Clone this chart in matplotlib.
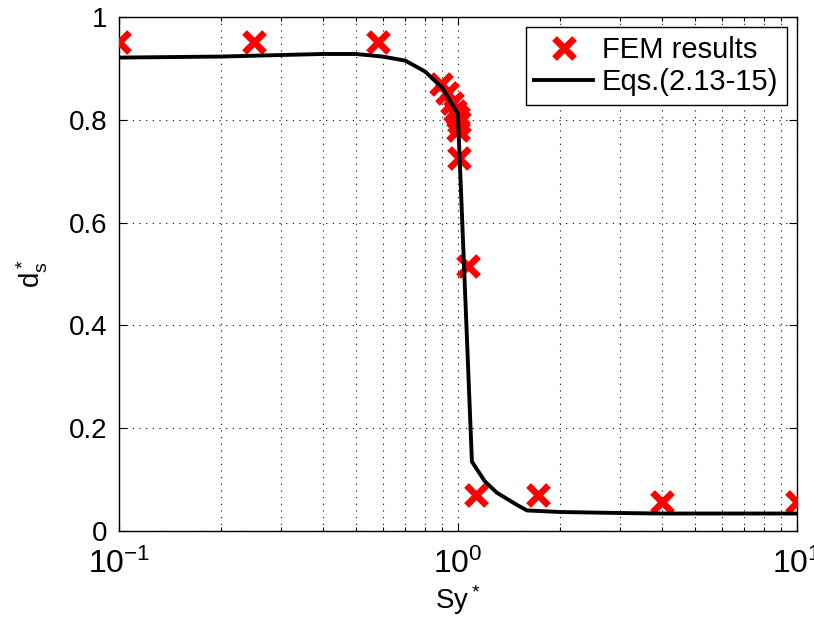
import matplotlib
matplotlib.use("Agg")
import matplotlib.pyplot as plt
from matplotlib.ticker import LogLocator

plt.rcParams['font.family'] = ['Liberation Sans', 'DejaVu Sans']
plt.rcParams['mathtext.default'] = 'regular'

# FEM results (scatter)
fem_sy = [0.1, 0.25, 0.58, 0.89, 0.93, 0.96, 0.98, 1.0, 1.01, 1.0, 1.01, 1.07, 1.13, 1.72, 4.0, 10.0]
fem_ds = [0.952, 0.952, 0.952, 0.870, 0.852, 0.833, 0.818, 0.805, 0.795, 0.780, 0.725, 0.515, 0.070, 0.070, 0.057, 0.057]

# Equation curve
eq_sy = [0.1, 0.2, 0.3, 0.4, 0.5, 0.6, 0.7, 0.8, 0.9, 1.0, 1.1, 1.2, 1.3, 1.4, 1.5, 1.6, 2.0, 3.0, 4.0, 6.0, 10.0]
eq_ds = [0.921, 0.923, 0.926, 0.928, 0.928, 0.923, 0.915, 0.894, 0.862, 0.812, 0.135, 0.097, 0.075, 0.062, 0.050, 0.040, 0.037, 0.035, 0.034, 0.034, 0.034]

fig = plt.figure(figsize=(8.14, 6.22), dpi=100)
ax = fig.add_axes([0.146, 0.1463, 0.833, 0.8264])

ax.plot(fem_sy, fem_ds, linestyle='none', marker='x', color='red', markersize=14,
        markeredgewidth=4.8, label='FEM results', zorder=3)
ax.plot(eq_sy, eq_ds, color='black', linewidth=2.8, label='Eqs.(2.13-15)', zorder=4)

ax.set_xscale('log')
ax.set_xlim(0.1, 10)
ax.set_ylim(0, 1)
ax.set_yticks([0, 0.2, 0.4, 0.6, 0.8, 1])
ax.set_yticklabels(['0', '0.2', '0.4', '0.6', '0.8', '1'])
ax.xaxis.set_major_locator(LogLocator(base=10, numticks=10))
ax.xaxis.set_minor_locator(LogLocator(base=10, subs=range(2, 10), numticks=20))

ax.grid(True, which='major', linestyle=(0, (1, 5)), color='black', linewidth=0.8)
ax.grid(True, which='minor', axis='x', linestyle=(0, (1, 5)), color='black', linewidth=0.8)

ax.tick_params(which='both', direction='in', top=True, right=True, labelsize=20, width=0.8)
ax.tick_params(which='major', length=6)
ax.tick_params(which='minor', length=3)
ax.tick_params(axis='x', pad=13, labelsize=23)
ax.tick_params(axis='y', pad=8)
for s in ax.spines.values():
    s.set_linewidth(1.0)

ax.set_xlabel('Sy$^*$', fontsize=20, labelpad=2)
ax.set_ylabel('d$_s^*$', fontsize=20, labelpad=14)

leg = ax.legend(loc='upper right', fontsize=21, frameon=True, fancybox=False,
                edgecolor='black', framealpha=1, borderaxespad=0.35,
                handlelength=2.0, handletextpad=0.3, borderpad=0.3, labelspacing=0.15)
leg.get_frame().set_linewidth(1.0)

fig.savefig('out.png', dpi=100)
